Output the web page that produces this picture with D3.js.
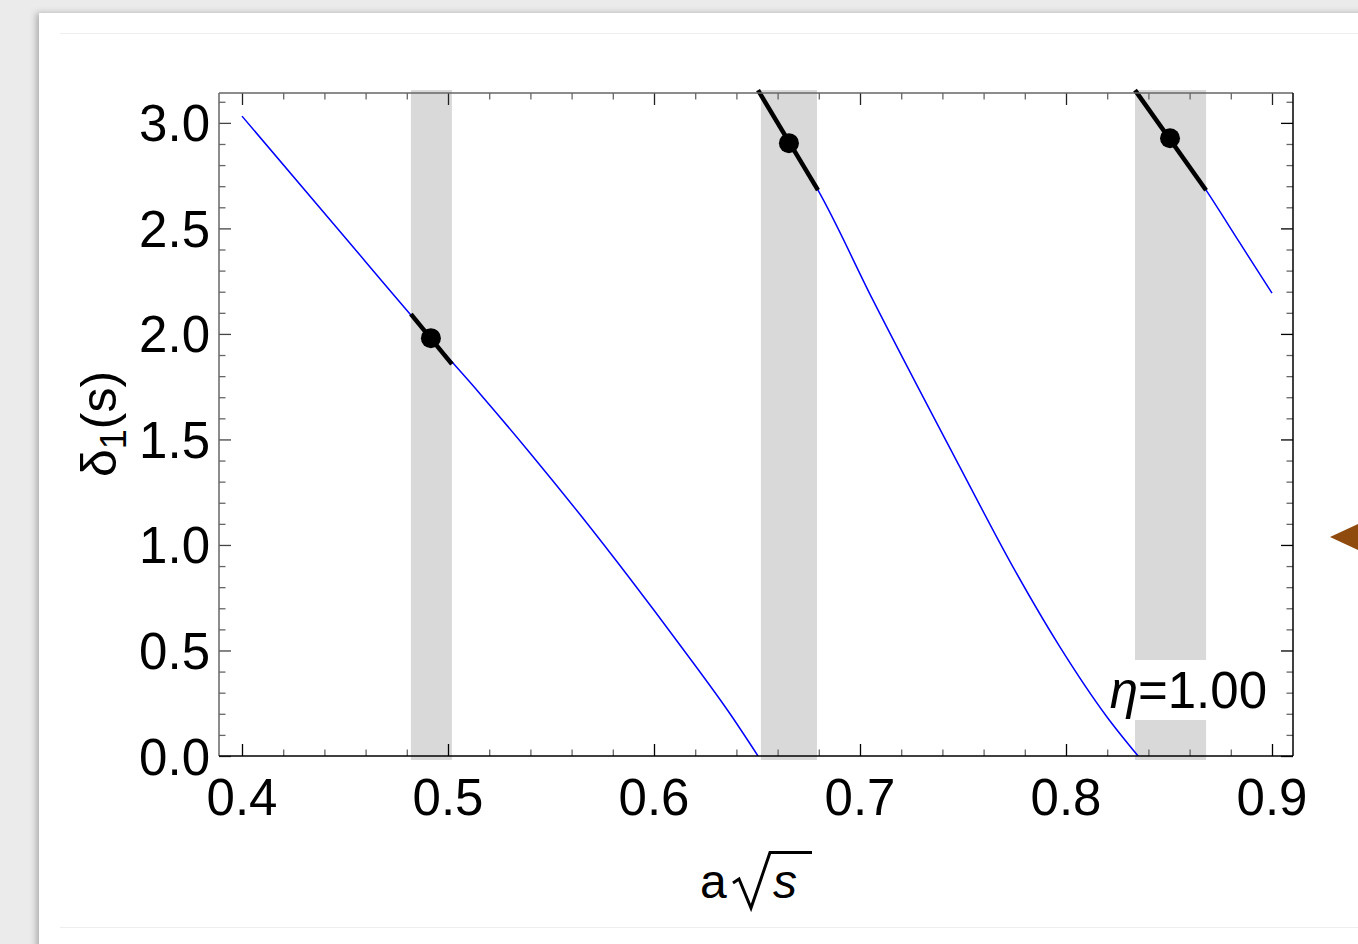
<!DOCTYPE html>
<html>
<head>
<meta charset="utf-8">
<script src="https://cdn.jsdelivr.net/npm/d3@7"></script>
<style>
  html, body { margin: 0; padding: 0; background: #ebebeb; }
  svg { display: block; }
  text { font-family: "Liberation Sans", Arial, sans-serif; fill: #000; }
</style>
</head>
<body>
<div id="chart"></div>
<script>
// tick values
const xMajor = [0.4, 0.5, 0.6, 0.7, 0.8, 0.9];
const xMinor = d3.range(0.40, 0.905, 0.02);
const yMajor = [0.0, 0.5, 1.0, 1.5, 2.0, 2.5, 3.0];
const yMinor = d3.range(0, 3.15, 0.1);

// grey resonance bands (a*sqrt(s) ranges)
const bandLo = [0.4820, 0.6519, 0.8335];
const bandHi = [0.5019, 0.6791, 0.8680];

// blue branches of delta_1(s)
const b1x = [0.4000, 0.4456, 0.4917, 0.5155, 0.5398, 0.5641, 0.5883, 0.6126, 0.6369, 0.6505];
const b1y = [3.032, 2.508, 1.980, 1.717, 1.436, 1.144, 0.841, 0.526, 0.200, 0.000];
const b2x = [0.6510, 0.6655, 0.6796, 0.7063, 0.7485, 0.7743, 0.7971, 0.8199, 0.8350];
const b2y = [3.1407, 2.904, 2.681, 2.160, 1.369, 0.895, 0.516, 0.185, 0.000];
const b3x = [0.8345, 0.8505, 0.8680, 0.8840, 0.9000];
const b3y = [3.1407, 2.927, 2.681, 2.437, 2.193];

// thick black segments inside the bands
const segX0 = [0.4820, 0.6505, 0.8335];
const segY0 = [2.094, 3.155, 3.155];
const segX1 = [0.5019, 0.6796, 0.8680];
const segY1 = [1.857, 2.681, 2.681];

// resonance points
const dotX = [0.4917, 0.6655, 0.8505];
const dotY = [1.980, 2.904, 2.927];

const W = 1358, H = 944;
const frame = { left: 219, right: 1293, top: 93, bottom: 756 };

const x = d3.scaleLinear().domain([0.4, 0.9]).range([242, 1272]);
const y = d3.scaleLinear().domain([0, Math.PI]).range([frame.bottom, frame.top]);

const svg = d3.select("#chart").append("svg")
  .attr("width", W).attr("height", H);

const defs = svg.append("defs");
const shadow = defs.append("filter").attr("id", "shadow")
  .attr("x", "-5%").attr("y", "-5%").attr("width", "110%").attr("height", "110%");
shadow.append("feDropShadow").attr("dx", -3).attr("dy", 0).attr("stdDeviation", 3)
  .attr("flood-color", "#000").attr("flood-opacity", 0.25);

defs.append("clipPath").attr("id", "plotclip").append("rect")
  .attr("x", frame.left).attr("y", frame.top)
  .attr("width", frame.right - frame.left).attr("height", frame.bottom - frame.top);

// page
svg.append("rect").attr("width", W).attr("height", H).attr("fill", "#ebebeb");
svg.append("rect").attr("x", 39).attr("y", 13).attr("width", W).attr("height", H)
  .attr("fill", "#fff").attr("filter", "url(#shadow)");
svg.append("line").attr("x1", 60).attr("x2", W).attr("y1", 33.5).attr("y2", 33.5)
  .attr("stroke", "#eeeeee").attr("stroke-width", 1);
svg.append("line").attr("x1", 60).attr("x2", W).attr("y1", 927.5).attr("y2", 927.5)
  .attr("stroke", "#eeeeee").attr("stroke-width", 1);

// bands
bandLo.forEach((lo, i) => {
  svg.append("rect")
    .attr("x", x(lo)).attr("width", x(bandHi[i]) - x(lo))
    .attr("y", y(Math.PI) - 3).attr("height", y(0) - y(Math.PI) + 7)
    .attr("fill", "#d9d9d9");
});

// label background (cuts the third band)
svg.append("rect")
  .attr("x", 1100).attr("width", 170)
  .attr("y", 660).attr("height", 60)
  .attr("fill", "#fff");

// blue curves
const line = d3.line().x(d => x(d[0])).y(d => y(d[1])).curve(d3.curveMonotoneX);
const curves = svg.append("g").attr("clip-path", "url(#plotclip)");
[[b1x, b1y], [b2x, b2y], [b3x, b3y]].forEach(([xs, ys]) => {
  curves.append("path")
    .datum(xs.map((v, i) => [v, ys[i]]))
    .attr("fill", "none")
    .attr("stroke", "#0000ff")
    .attr("stroke-width", 1.5)
    .attr("d", line);
});

// thick segments
segX0.forEach((v, i) => {
  svg.append("path")
    .datum([[v, segY0[i]], [segX1[i], segY1[i]]])
    .attr("fill", "none")
    .attr("stroke", "#000")
    .attr("stroke-width", 4.5)
    .attr("d", d3.line().x(d => x(d[0])).y(d => y(d[1])));
});

svg.selectAll("circle.pt")
  .data(dotX.map((v, i) => [v, dotY[i]]))
  .join("circle")
  .attr("class", "pt")
  .attr("cx", d => x(d[0]))
  .attr("cy", d => y(d[1]))
  .attr("r", 10)
  .attr("fill", "#000");

// axes: ticks pointing inward, Mathematica style
function ticks(axis, pos, major, minor, colorMajor, colorMinor) {
  const g1 = svg.append("g").attr("transform", pos)
    .call(axis.tickValues(minor.filter(v => !major.some(m => Math.abs(m - v) < 1e-6)))
      .tickSize(-6.5).tickFormat(""));
  g1.select(".domain").remove();
  g1.selectAll("line").attr("stroke", colorMinor).attr("stroke-width", 1.3);
}
function majorTicks(axis, pos, major, color) {
  const g = svg.append("g").attr("transform", pos)
    .call(axis.tickValues(major).tickSize(-12).tickFormat(""));
  g.select(".domain").remove();
  g.selectAll("line").attr("stroke", color).attr("stroke-width", 1.3);
}

ticks(d3.axisBottom(x), `translate(0,${frame.bottom})`, xMajor, xMinor, "#000", "#666");
majorTicks(d3.axisBottom(x), `translate(0,${frame.bottom})`, xMajor, "#000");
ticks(d3.axisTop(x), `translate(0,${frame.top})`, xMajor, xMinor, "#000", "#666");
majorTicks(d3.axisTop(x), `translate(0,${frame.top})`, xMajor, "#222");
ticks(d3.axisLeft(y), `translate(${frame.left},0)`, yMajor, yMinor, "#000", "#666");
majorTicks(d3.axisLeft(y), `translate(${frame.left},0)`, yMajor, "#444");
ticks(d3.axisRight(y), `translate(${frame.right},0)`, yMajor, yMinor, "#000", "#666");
majorTicks(d3.axisRight(y), `translate(${frame.right},0)`, yMajor, "#000");

// frame
svg.append("line").attr("x1", frame.left).attr("x2", frame.right)
  .attr("y1", frame.top).attr("y2", frame.top).attr("stroke", "#666").attr("stroke-width", 1.5);
svg.append("line").attr("x1", frame.left).attr("x2", frame.left)
  .attr("y1", frame.top).attr("y2", frame.bottom).attr("stroke", "#666").attr("stroke-width", 1.5);
svg.append("line").attr("x1", frame.left).attr("x2", frame.right)
  .attr("y1", frame.bottom).attr("y2", frame.bottom).attr("stroke", "#000").attr("stroke-width", 1.5);
svg.append("line").attr("x1", frame.right).attr("x2", frame.right)
  .attr("y1", frame.top).attr("y2", frame.bottom).attr("stroke", "#000").attr("stroke-width", 1.5);

// tick labels
svg.selectAll("text.xl")
  .data(xMajor)
  .join("text")
  .attr("class", "xl")
  .attr("x", d => x(d))
  .attr("y", 815)
  .attr("text-anchor", "middle")
  .style("font-size", "51px")
  .text(d => d.toFixed(1));

svg.selectAll("text.yl")
  .data(yMajor)
  .join("text")
  .attr("class", "yl")
  .attr("x", 210)
  .attr("y", d => y(d) + 18.5)
  .attr("text-anchor", "end")
  .style("font-size", "51px")
  .text(d => d.toFixed(1));

// axis titles
const yt = svg.append("text")
  .attr("transform", "translate(116,424) rotate(-90)")
  .attr("text-anchor", "middle")
  .style("font-size", "50px");
yt.append("tspan").text("δ");
yt.append("tspan").attr("dy", 10).style("font-size", "36px").text("1");
yt.append("tspan").attr("dy", -10).text("(s)");

svg.append("text")
  .attr("x", 700).attr("y", 898)
  .style("font-size", "48px")
  .text("a");
svg.append("path")
  .attr("d", "M733,883 L739,879 L751,908 L770,852.5 L812,852.5")
  .attr("fill", "none").attr("stroke", "#000").attr("stroke-width", 3)
  .attr("stroke-linejoin", "miter");
svg.append("text")
  .attr("x", 773).attr("y", 898)
  .style("font-size", "48px").style("font-style", "italic")
  .text("s");

// eta label
const et = svg.append("text")
  .attr("x", 1267).attr("y", 708)
  .attr("text-anchor", "end")
  .style("font-size", "51px");
et.append("tspan").style("font-style", "italic").text("η");
et.append("tspan").text("=1.00");

// brown marker at the right edge
svg.append("path")
  .attr("d", "M1330,537 L1358,524 L1358,550 Z")
  .attr("fill", "#8f4a0e");
</script>
</body>
</html>
